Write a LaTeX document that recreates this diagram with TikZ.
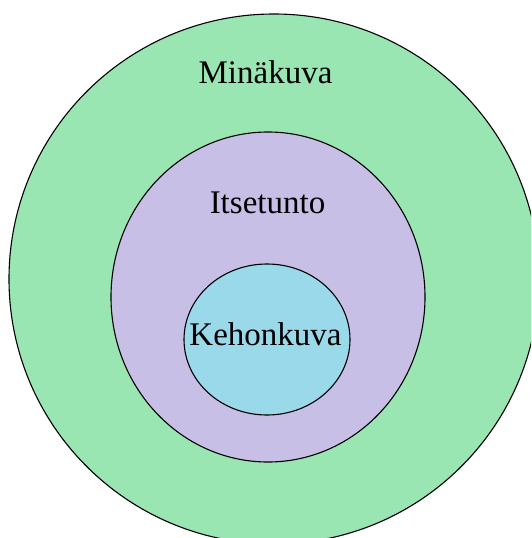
\documentclass[tikz,border=0pt]{standalone}
\usepackage{fontspec}
\setmainfont{Liberation Serif}
\usetikzlibrary{shapes.geometric}
\definecolor{cgreen}{HTML}{99E6B3}
\definecolor{cpurple}{HTML}{C8BFE7}
\definecolor{cblue}{HTML}{99D9EA}
\tikzset{
  ring/.style={ellipse, draw=black, line width=1.1pt, inner sep=0pt},
  lbl/.style={anchor=base, inner sep=0pt, font=\fontsize{33}{36}\selectfont}
}
\begin{document}
\begin{tikzpicture}[x=1pt,y=1pt]
\useasboundingbox (0,0) rectangle (531,-538);
\clip (0,0) rectangle (531,-538);
\fill[white] (0,0) rectangle (531,-538);
\node[ring, fill=cgreen, minimum width=530pt, minimum height=530pt] (outer) at (274,-279) {};
\node[ring, fill=cpurple, minimum width=314pt, minimum height=330pt] (middle) at (268,-297) {};
\node[ring, fill=cblue, minimum width=166pt, minimum height=151pt] (inner) at (267,-339.5) {};
\node[lbl] (tmin) at (265.5,-83) {Minäkuva};
\node[lbl] (tits) at (267.5,-213) {Itsetunto};
\node[lbl] (tkeh) at (265.5,-345) {Kehonkuva};
\end{tikzpicture}
\end{document}
